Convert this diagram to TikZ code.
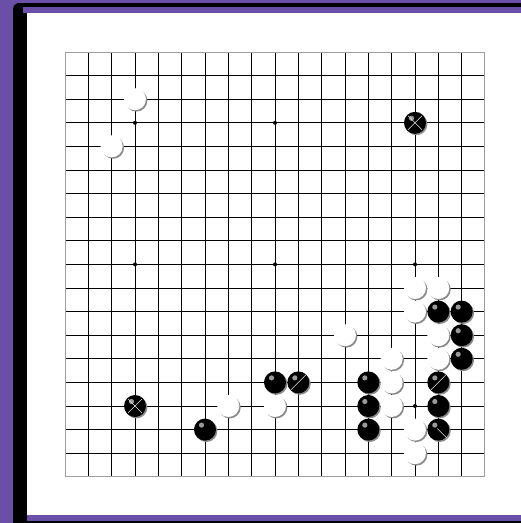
\documentclass[tikz,border=0pt]{standalone}
\definecolor{framepurple}{HTML}{6A4FA8}
\definecolor{stoneshadow}{HTML}{8A8A8A}
\definecolor{hilite}{HTML}{9A9A9A}
\tikzset{
  gridline/.style={black, line width=0.9pt},
  edgeline/.style={gray!75, line width=1pt},
  starpt/.style={fill=black},
  wstone/.style={fill=white},
  bstone/.style={fill=black},
  shadowfill/.style={fill=stoneshadow},
  markline/.style={white!80!gray, line width=0.6pt}
}
\begin{document}
\begin{tikzpicture}[x=1pt,y=-1pt]
\useasboundingbox (0,0) rectangle (521,523);
% frame
\fill[framepurple] (0,0) rectangle (521,523);
\fill[black, rounded corners=6pt] (13,3) rectangle (560,560);
\fill[black] (13,521) rectangle (521,523);
\fill[framepurple] (22.7,7) rectangle (521,521);
\fill[black] (13,12.5) rectangle (27,521);
\fill[white] (27,12.5) rectangle (521,515);
\begin{scope}[shift={(65,52)}, x=23.333pt, y=-23.6pt]
  \foreach \i in {1,...,17} {
    \draw[gridline] (\i,0) -- (\i,18);
    \draw[gridline] (0,\i) -- (18,\i);
  }
  \draw[edgeline] (0,0) rectangle (18,18);
  \foreach \i in {3,9,15} \foreach \j in {3,9,15}
    \fill[starpt] (\i,\j) circle[radius=2pt];
  % white stones
  \foreach \i/\j in {3/2,2/4,12/12,15/10,16/10,15/11,16/12,16/13,14/13,14/14,14/15,15/16,15/17,7/15,9/15} {
    \fill[shadowfill] ([shift={(1.4pt,-1.4pt)}]\i,\j) circle[radius=11pt];
    \fill[wstone] (\i,\j) circle[radius=11pt];
  }
  % black stones
  \foreach \i/\j in {15/3,3/15,6/16,9/14,10/14,13/14,13/15,13/16,16/11,17/11,17/12,17/13,16/14,16/15,16/16} {
    \fill[shadowfill] ([shift={(1.4pt,-1.4pt)}]\i,\j) circle[radius=11pt];
    \fill[bstone] (\i,\j) circle[radius=11pt];
    \fill[hilite] ([shift={(-3.5pt,4.5pt)}]\i,\j) circle[radius=2.6pt];
  }
  % marks
  \foreach \i/\j in {15/3,3/15} {
    \draw[markline] ([shift={(-7pt,-7pt)}]\i,\j) -- ([shift={(7pt,7pt)}]\i,\j);
    \draw[markline] ([shift={(-7pt,7pt)}]\i,\j) -- ([shift={(7pt,-7pt)}]\i,\j);
  }
  \foreach \i/\j in {10/14,16/14}
    \draw[markline] ([shift={(-8pt,-8pt)}]\i,\j) -- ([shift={(8pt,8pt)}]\i,\j);
  \draw[markline] ([shift={(-1pt,1pt)}]16,16) -- ([shift={(9pt,-9pt)}]16,16);
\end{scope}
\end{tikzpicture}
\end{document}
